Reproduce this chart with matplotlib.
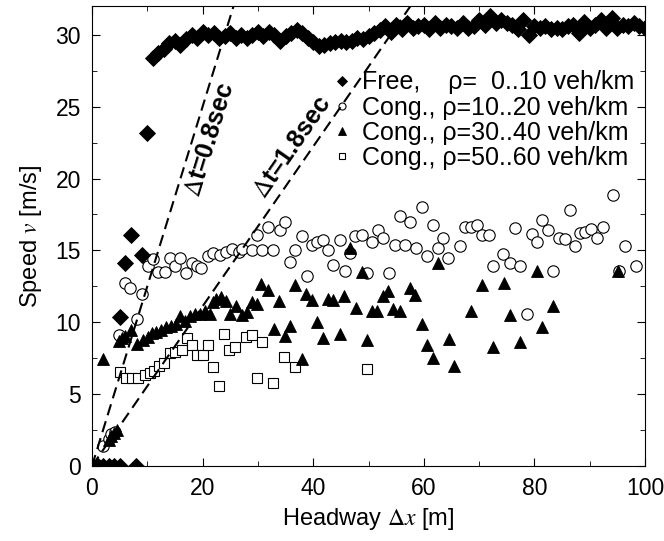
import matplotlib
matplotlib.use("Agg")
import matplotlib.pyplot as plt
from matplotlib.ticker import MultipleLocator

plt.rcParams["font.family"] = ["Liberation Sans", "DejaVu Sans"]
plt.rcParams["mathtext.fontset"] = "stix"

# free flow, rho = 0..10 veh/km
free_x = [0, 1, 2, 3, 4, 5, 8, 5, 6, 7, 9, 10,
          11, 12, 13, 14, 15, 16, 17, 18, 19, 20,
          21, 22, 23, 24, 25, 26, 27, 28, 29, 30,
          31, 32, 33, 34, 35, 36, 37, 38, 39, 40,
          41, 42, 43, 44, 45, 46, 47, 48, 49, 50,
          51, 52, 53, 54, 55, 56, 57, 58, 59, 60,
          61, 62, 63, 64, 65, 66, 67, 68, 69, 70,
          71, 72, 73, 74, 75, 76, 77, 78, 79, 80,
          81, 82, 83, 84, 85, 86, 87, 88, 89, 90,
          91, 92, 93, 94, 95, 96, 97, 98, 99, 100]
free_v = [0, 0, 0, 0, 0, 0, 0, 10.4, 14.1, 16.1, 14.7, 23.2,
          28.4, 28.7, 29.0, 29.4, 29.6, 29.3, 29.7, 30.0, 29.8, 30.2,
          30.0, 30.1, 29.8, 29.9, 30.1, 29.8, 30.0, 29.8, 30.0, 30.2,
          29.9, 30.2, 30.0, 29.6, 29.9, 30.1, 30.3, 30.1, 29.8, 29.5,
          29.2, 29.3, 29.4, 29.5, 29.6, 29.5, 29.6, 29.8, 29.7, 29.9,
          30.1, 30.3, 30.6, 30.2, 30.7, 30.4, 30.8, 30.5, 30.6, 30.7,
          30.4, 30.8, 30.5, 30.7, 30.6, 30.5, 30.8, 30.5, 30.6, 31.0,
          30.7, 31.3, 30.8, 31.0, 30.8, 30.7, 30.4, 31.0, 30.0, 30.6,
          30.5, 30.6, 30.4, 30.5, 30.4, 30.6, 30.7, 30.1, 30.9, 30.5,
          30.7, 31.0, 30.5, 31.2, 30.5, 30.7, 30.6, 30.8, 30.6, 30.45]

# congested, rho = 10..20 veh/km
c1_x = [2.0, 3.0, 3.5, 4.2, 4.8, 5.9, 6.9, 8.1, 9.0, 10.2, 11.0, 12.0, 13.2,
        14.1, 15.0, 15.9, 17.0, 18.0, 18.9, 19.8, 21.0, 21.9, 23.1, 24.3,
        25.3, 26.5, 27.1, 28.9, 29.8, 30.7, 31.9, 32.8, 34.0, 34.9, 35.8,
        36.7, 37.9, 38.8, 39.7, 40.6, 41.8, 42.7, 43.6, 44.8, 45.7, 46.7,
        47.6, 48.8, 49.7, 50.6, 51.8, 52.7, 53.7, 54.8, 55.7, 56.6, 57.5,
        58.6, 59.6, 60.5, 61.7, 62.6, 63.5, 64.4, 66.5, 67.4, 68.6, 69.6,
        70.5, 71.7, 72.6, 74.4, 75.6, 76.5, 77.4, 78.6, 79.5, 80.4, 81.3,
        82.5, 83.4, 84.5, 85.5, 86.4, 87.4, 88.3, 89.2, 90.3, 91.3, 92.4,
        94.3, 95.3, 96.3, 98.3]
c1_v = [1.4, 1.9, 2.2, 2.4, 9.1, 12.7, 12.4, 10.2, 12.0, 13.9, 14.4, 13.5, 13.5,
        14.5, 13.9, 14.45, 13.4, 14.1, 13.9, 13.75, 14.6, 14.8, 14.7, 14.9,
        15.1, 14.9, 15.1, 15.0, 16.1, 15.0, 16.65, 15.0, 16.4, 17.0, 14.2,
        15.0, 16.0, 13.2, 15.4, 15.6, 15.7, 15.0, 14.0, 15.7, 13.6, 14.8,
        16.0, 16.1, 13.4, 15.6, 16.4, 15.85, 13.4, 15.35, 17.4, 15.35, 17.0,
        15.15, 18.05, 14.6, 16.8, 15.15, 15.85, 14.45, 15.3, 16.65, 16.65, 16.8,
        16.1, 16.1, 13.9, 14.75, 14.1, 16.55, 13.9, 10.6, 16.15, 15.6, 17.1,
        16.4, 13.6, 15.85, 15.8, 17.8, 15.3, 16.2, 16.3, 16.5, 15.85, 16.65,
        18.85, 13.6, 15.3, 13.9]

# congested, rho = 30..40 veh/km
c3_x = [0.5, 1.0, 1.5, 2.0, 3.0, 3.5, 4.0, 4.5, 2.05, 4.8, 5.5, 6.0, 7.0, 8.1,
        9.3, 10.2, 10.9, 11.6, 12.4, 13.3, 14.2, 15.1, 15.9, 16.8, 17.7, 18.6,
        19.5, 20.4, 21.3, 21.8, 22.5, 23.4, 24.3, 25.0, 26.0, 27.1, 28.0, 28.9,
        29.8, 30.6, 31.9, 32.9, 33.8, 34.9, 35.8, 36.7, 37.9, 38.7, 39.7, 40.6,
        41.8, 42.6, 43.6, 44.8, 45.6, 46.7, 47.7, 48.8, 49.7, 50.6, 51.6, 52.7,
        53.6, 54.5, 55.7, 57.5, 58.4, 59.6, 60.6, 61.7, 62.6, 64.5, 65.5, 68.6,
        70.5, 72.6, 74.5, 75.5, 77.4, 80.4, 81.4, 83.4, 95.2]
c3_v = [0, 0, 0, 0, 1.8, 2.1, 2.3, 2.5, 7.45, 8.7, 8.9, 9.05, 9.45, 8.5,
        8.8, 8.95, 9.25, 9.35, 9.45, 9.65, 9.75, 9.85, 10.45, 10.1, 10.45, 10.55,
        10.6, 10.75, 10.6, 11.4, 11.6, 11.75, 11.45, 10.6, 11.15, 10.5, 10.7, 11.4,
        11.3, 12.65, 12.25, 9.5, 11.45, 9.05, 9.75, 12.6, 7.45, 12.0, 11.55, 10.05,
        8.9, 11.6, 11.55, 9.2, 11.8, 15.2, 11.0, 13.5, 8.8, 10.75, 10.75, 11.85,
        12.2, 10.95, 10.8, 12.35, 11.9, 9.9, 8.4, 7.5, 14.1, 8.85, 6.95, 10.75,
        12.6, 8.3, 12.7, 10.5, 8.65, 13.6, 9.7, 11.1, 13.6]

# congested, rho = 50..60 veh/km
c5_x = [5.1, 6.2, 7.2, 8.3, 9.5, 10.4, 11.2, 12.1, 13.0, 14.1, 15.0, 16.2,
        17.1, 18.0, 18.9, 20.0, 21.0, 21.9, 22.9, 23.9, 24.8, 25.9, 27.8,
        28.9, 29.8, 30.8, 32.8, 34.8, 36.7, 49.7]
c5_v = [6.55, 6.15, 6.15, 6.15, 6.35, 6.45, 6.6, 6.95, 7.15, 7.85, 7.95, 8.05,
        8.9, 8.45, 7.7, 7.7, 8.4, 6.9, 5.55, 9.15, 8.1, 8.25, 9.0,
        9.1, 6.1, 8.6, 5.8, 7.6, 6.9, 6.75]

# time-headway reference lines
headway_times = [0.8, 1.8]
line_x = [0, 100]

fig = plt.figure(figsize=(6.64, 5.41), dpi=100)
ax = fig.add_axes([92 / 664, 75 / 541, 553 / 664, 460 / 541])

h_free, = ax.plot(free_x, free_v, ls="none", marker="D", ms=7.8, mfc="black",
                  mec="black", mew=0.6, zorder=5)
h_c1, = ax.plot(c1_x, c1_v, ls="none", marker="o", ms=8.2, mfc="white",
                mec="black", mew=0.8, zorder=2)
h_c5, = ax.plot(c5_x, c5_v, ls="none", marker="s", ms=7.2, mfc="white",
                mec="black", mew=0.8, zorder=3)
h_c3, = ax.plot(c3_x, c3_v, ls="none", marker="^", ms=8.8, mfc="black",
                mec="black", mew=0.6, zorder=4)

for dt in headway_times:
    ax.plot(line_x, [x / dt for x in line_x], color="black", lw=1.5,
            ls=(0, (5.5, 3)), zorder=6)

ax.text(21.4, 22.7, r"$\Delta$t=0.8sec", rotation=72.9, ha="center", va="center",
        fontsize=18, fontweight="bold", rotation_mode="anchor", zorder=7)
ax.text(36.2, 22.2, r"$\Delta$t=1.8sec", rotation=55.3, ha="center", va="center",
        fontsize=18, fontweight="bold", rotation_mode="anchor", zorder=7)

ax.legend([h_free, h_c1, h_c3, h_c5],
          ["Free,    \u03c1=  0..10 veh/km", "Cong., \u03c1=10..20 veh/km",
           "Cong., \u03c1=30..40 veh/km", "Cong., \u03c1=50..60 veh/km"],
          loc="upper right", bbox_to_anchor=(0.98, 0.86), frameon=False,
          fontsize=18, markerscale=0.62, handlelength=0.6, handletextpad=0.5,
          labelspacing=0.05, borderpad=0, borderaxespad=0)

ax.set_xlim(0, 100)
ax.set_ylim(0, 32)
ax.xaxis.set_major_locator(MultipleLocator(20))
ax.xaxis.set_minor_locator(MultipleLocator(10))
ax.yaxis.set_major_locator(MultipleLocator(5))
ax.yaxis.set_minor_locator(MultipleLocator(2.5))
ax.tick_params(which="both", direction="in", top=True, right=True, labelsize=16.5)
ax.tick_params(which="major", length=6, pad=8)
ax.tick_params(which="minor", length=3.5)
ax.set_xlabel(r"Headway $\Delta x$ [m]", fontsize=17, labelpad=4)
ax.set_ylabel(r"Speed $v$ [m/s]", fontsize=17, labelpad=8)

fig.savefig("out.png", dpi=100)
